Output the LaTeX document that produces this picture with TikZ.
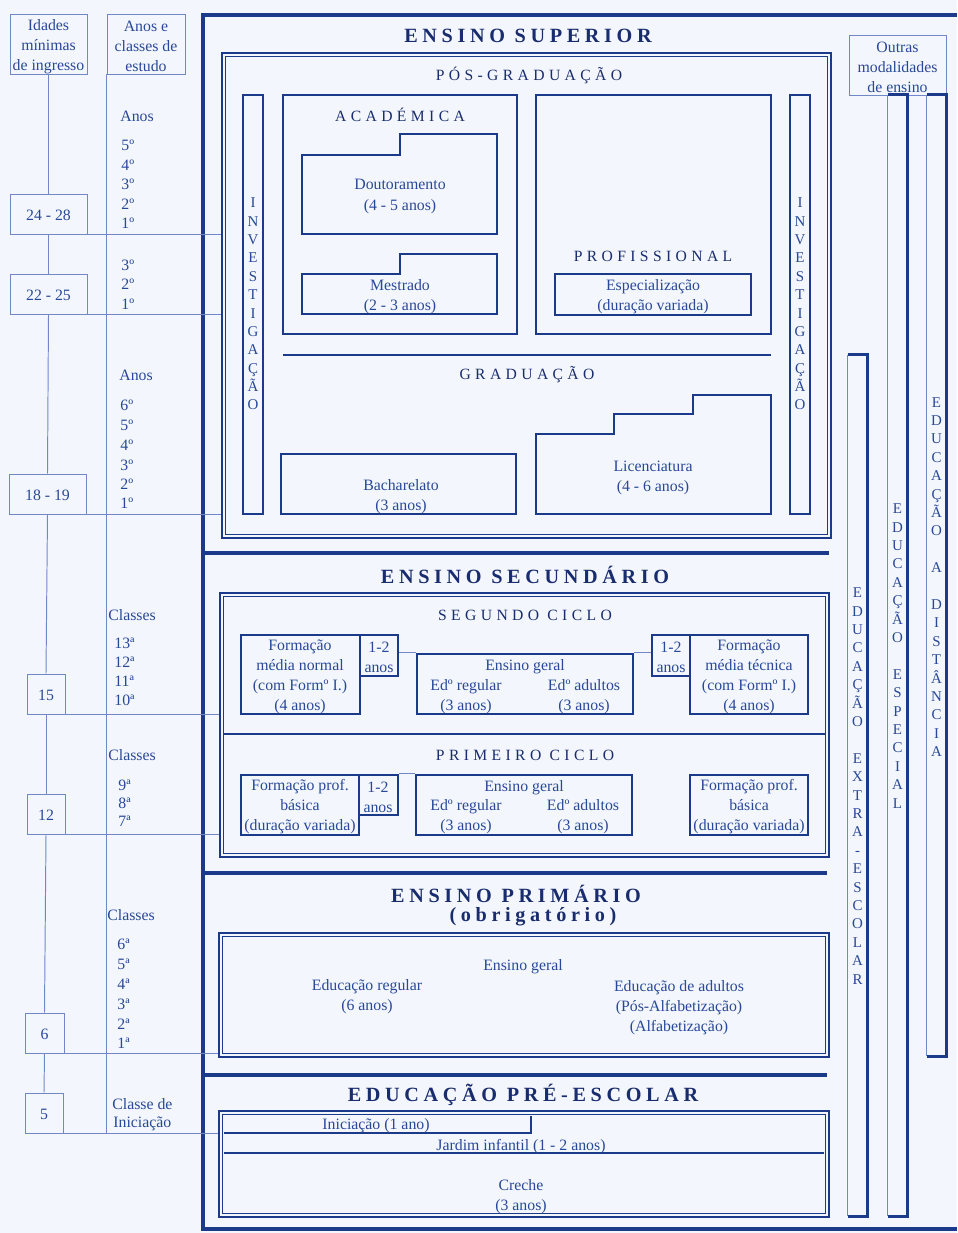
\documentclass[tikz,border=0pt]{standalone}
\usepackage{fontspec}
\setmainfont{Liberation Serif}
\usetikzlibrary{calc,fit}
\definecolor{lineblue}{RGB}{28,58,138}
\definecolor{thinblue}{RGB}{112,136,200}
\definecolor{headblue}{RGB}{25,44,110}
\definecolor{textblue}{RGB}{40,72,152}
\definecolor{paper}{RGB}{243,246,252}
\newcommand{\bodyfont}{\fontsize{9}{11.4}\selectfont}
\newcommand{\headfont}{\fontsize{11.5}{14}\selectfont\bfseries\addfontfeature{LetterSpace=23}}
\newcommand{\subheadfont}{\fontsize{8.9}{11}\selectfont\addfontfeature{LetterSpace=28}}
\newcommand{\vfont}{\fontsize{8.5}{10.47}\selectfont}
\tikzset{
  px/.style={x=0.02cm,y=-0.02cm},
  heavy/.style={draw=lineblue,line width=2.3pt},
  sepline/.style={draw=lineblue,line width=2.8pt},
  bx/.style={draw=lineblue,line width=1.4pt,inner sep=0pt},
  thinbx/.style={draw=thinblue,line width=0.55pt,inner sep=0pt},
  thin/.style={draw=thinblue,line width=0.55pt},
  frameout/.style={draw=lineblue,line width=1.6pt,inner sep=0pt},
  framein/.style={draw=lineblue,line width=0.7pt},
  midline/.style={draw=lineblue,line width=1.2pt},
  txt/.style={text=textblue,font=\bodyfont,align=center,inner sep=0pt,yshift=-0.03cm},
  lab/.style={text=textblue,font=\bodyfont,inner sep=0pt,anchor=west},
  head/.style={text=headblue,font=\headfont,inner sep=0pt},
  subhead/.style={text=headblue,font=\subheadfont,inner sep=0pt},
  vtxt/.style={text=textblue,font=\vfont,align=center,inner sep=0pt},
}
\newcommand{\dframe}[3]{%
  \node[frameout,fit={#2 #3}] (#1) {};
  \draw[framein] ($(#1.north west)+(5,5)$) rectangle ($(#1.south east)+(-5,-5)$);
}
\newcommand{\sidecol}[3]{%
  \node[inner sep=0pt,fit={#2 #3}] (#1) {};
  \draw[thin] (#1.north west) -- (#1.south west);
  \draw[bx] (#1.north west) -- (#1.north east) -- (#1.south east) -- (#1.south west);
}
\begin{document}
\begin{tikzpicture}[px]
\useasboundingbox (0,0) rectangle (957,1233);
\fill[paper] (0,0) rectangle (957,1233);

% ---------- outer frame and section separators
\draw[heavy] (957,15) -- (203,15) -- (203,1229) -- (957,1229);
\draw[sepline] (203,553) -- (829,553);
\draw[sepline] (203,873) -- (827,873);
\draw[sepline] (203,1075) -- (827,1075);

% ---------- ENSINO SUPERIOR
\node[head] (tSup) at (528,36) {ENSINO SUPERIOR};
\dframe{pg}{(222,53)}{(831,538)}
\node[subhead] (tPos) at (529,75) {PÓS-GRADUAÇÃO};

\node[bx,fit={(243,95)(263,514)}] (invL) {};
\node[vtxt] (invLt) at (253,304) {I\\N\\V\\E\\S\\T\\I\\G\\A\\Ç\\Ã\\O};
\node[bx,fit={(790,95)(810,514)}] (invR) {};
\node[vtxt] (invRt) at (800,304) {I\\N\\V\\E\\S\\T\\I\\G\\A\\Ç\\Ã\\O};

\node[bx,fit={(283,95)(517,334)}] (acad) {};
\node[subhead] (tAcad) at (400,115) {ACADÉMICA};
\draw[bx] (302,155) -- (400,155) -- (400,134) -- (497,134) -- (497,234) -- (302,234) -- cycle;
\node[txt] (dout) at (400,195) {Doutoramento\\(4 - 5 anos)};
\draw[bx] (302,274) -- (400,274) -- (400,254) -- (497,254) -- (497,314) -- (302,314) -- cycle;
\node[txt] (mest) at (400,295) {Mestrado\\(2 - 3 anos)};

\node[bx,fit={(536,95)(771,334)}] (prof) {};
\node[subhead] (tProf) at (653,256) {PROFISSIONAL};
\node[bx,fit={(555,274)(751,315)}] (esp) {};
\node[txt] (espt) at (653,295) {Especialização\\(duração variada)};

\draw[lineblue,line width=1.7pt] (283,355) -- (771,355);
\node[subhead] (tGrad) at (527,375) {GRADUAÇÃO};
\node[bx,fit={(281,454)(516,514)}] (bach) {};
\node[txt] (bacht) at (401,495) {Bacharelato\\(3 anos)};
\draw[bx] (536,514) -- (536,434) -- (614,434) -- (614,414) -- (693,414) -- (693,395) -- (771,395) -- (771,514) -- cycle;
\node[txt] (lict) at (653,476) {Licenciatura\\(4 - 6 anos)};

% ---------- ENSINO SECUNDARIO
\node[head] (tSec) at (525,575) {ENSINO SECUNDÁRIO};
\dframe{sec}{(220,593)}{(829,857)}
\draw[midline] ($(sec.north west)+(5,142)$) -- ($(sec.north east)+(-5,142)$);
\node[subhead] (tSeg) at (525,615) {SEGUNDO CICLO};
\node[subhead] (tPrim1) at (525,755) {PRIMEIRO CICLO};

\node[bx,fit={(241,635)(360,714)}] (fmn) {};
\node[bx,fit={(360,635)(398,676)}] (fmnA) {};
\node[txt] (fmnt) at (300,675) {Formação\\média normal\\(com Formº I.)\\(4 anos)};
\node[txt] (fmnAt) at (379,656) {1-2\\anos};
\node[bx,fit={(417,654)(633,714)}] (eg2) {};
\node[txt] (eg2t) at (525,665) {Ensino geral};
\node[txt] (eg2r) at (466,695) {Edº regular\\(3 anos)};
\node[txt] (eg2a) at (584,695) {Edº adultos\\(3 anos)};
\node[bx,fit={(652,635)(690,676)}] (fmtA) {};
\node[bx,fit={(690,635)(808,714)}] (fmt) {};
\node[txt] (fmtAt) at (671,656) {1-2\\anos};
\node[txt] (fmtt) at (749,675) {Formação\\média técnica\\(com Formº I.)\\(4 anos)};
\draw[thin] (fmnA.east |- eg2.north) -- (eg2.north west);
\draw[thin] (eg2.north east) -- (fmtA.west |- eg2.north);

\node[bx,fit={(241,775)(359,835)}] (fpb) {};
\node[bx,fit={(359,775)(398,815)}] (fpbA) {};
\node[txt] (fpbt) at (300,805) {Formação prof.\\básica\\(duração variada)};
\node[txt] (fpbAt) at (378,796) {1-2\\anos};
\node[bx,fit={(416,775)(632,835)}] (eg1) {};
\node[txt] (eg1t) at (524,786) {Ensino geral};
\node[txt] (eg1r) at (466,815) {Edº regular\\(3 anos)};
\node[txt] (eg1a) at (583,815) {Edº adultos\\(3 anos)};
\node[bx,fit={(690,775)(808,835)}] (fpbR) {};
\node[txt] (fpbRt) at (749,805) {Formação prof.\\básica\\(duração variada)};
\draw[thin] (fpbA.north east) -- (eg1.north west);

% ---------- ENSINO PRIMARIO
\node[head] (tPri) at (516,894) {ENSINO PRIMÁRIO};
\node[head] (tObr) at (533,917) {(obrigatório)};
\dframe{pri}{(219,933)}{(829,1057)}
\node[txt] (prig) at (523,965) {Ensino geral};
\node[txt] (prir) at (367,995) {Educação regular\\(6 anos)};
\node[txt] (pria) at (679,1006) {Educação de adultos\\(Pós-Alfabetização)\\(Alfabetização)};

% ---------- EDUCACAO PRE-ESCOLAR
\node[head] (tPre) at (523,1095) {EDUCAÇÃO PRÉ-ESCOLAR};
\dframe{pre}{(219,1111)}{(829,1217)}
\draw[midline] (224,1133) -- (531,1133) -- (531,1116);
\draw[midline] (224,1153) -- (824,1153);
\node[txt] (inic) at (376,1124) {Iniciação (1 ano)};
\node[txt] (jard) at (521,1145) {Jardim infantil (1 - 2 anos)};
\node[txt] (crec) at (521,1195) {Creche\\(3 anos)};

% ---------- left columns
\node[thinbx,fit={(10,14)(87,74)}] (idades) {};
\node[txt] (idadest) at (48.5,45) {Idades\\mínimas\\de ingresso};
\node[thinbx,fit={(107,14)(185,74)}] (anosbox) {};
\node[txt] (anosboxt) at (146,45) {Anos e\\classes de\\estudo};

\node[thinbx,fit={(10,194)(87,234)}] (a2428) {};
\node[thinbx,fit={(10,274)(87,314)}] (a2225) {};
\node[thinbx,fit={(9,474)(86,514)}] (a1819) {};
\node[thinbx,fit={(27,674)(65,714)}] (a15) {};
\node[thinbx,fit={(27,794)(65,834)}] (a12) {};
\node[thinbx,fit={(25,1013)(64,1053)}] (a6) {};
\node[thinbx,fit={(25,1093)(63,1133)}] (a5) {};
\node[txt] (a2428t) at (a2428) {24 - 28};
\node[txt] (a2225t) at (a2225) {22 - 25};
\node[txt] (a1819t) at (a1819) {18 - 19};
\node[txt] (a15t) at (a15) {15};
\node[txt] (a12t) at (a12) {12};
\node[txt] (a6t) at (a6) {6};
\node[txt] (a5t) at (a5) {5};

\draw[thin] (idades.south) -- (a2428.north);
\draw[thin] (a2428.south) -- (a2225.north);
\draw[thin] (a2225.south) -- (a1819.north);
\draw[thin] (a1819.south) -- (a15.north);
\draw[thin] (a15.south) -- (a12.north);
\draw[thin] (a12.south) -- (a6.north);
\draw[thin] (a6.south) -- (a5.north);
\draw[thin] (anosbox.south west) -- (anosbox.south west |- a5.south);

\draw[thin] (a2428.south west) -- (a2428.south west -| pg.west);
\draw[thin] (a2225.south west) -- (a2225.south west -| pg.west);
\draw[thin] (a1819.south west) -- (a1819.south west -| pg.west);
\draw[thin] (a15.south west) -- (a15.south west -| sec.west);
\draw[thin] (a12.south west) -- (a12.south west -| sec.west);
\draw[thin] (a6.south west) -- (a6.south west -| pri.west);
\draw[thin] (a5.south west) -- (a5.south west -| pre.west);

% year / class labels
\node[lab] (l1) at (120,116) {Anos};
\node[lab] (l2) at (121,145) {5º};
\node[lab] (l3) at (121,165) {4º};
\node[lab] (l4) at (121,184) {3º};
\node[lab] (l5) at (121,204) {2º};
\node[lab] (l6) at (121,223) {1º};
\node[lab] (l7) at (121,265) {3º};
\node[lab] (l8) at (121,284) {2º};
\node[lab] (l9) at (121,304) {1º};
\node[lab] (l10) at (119,375) {Anos};
\node[lab] (l11) at (120,405) {6º};
\node[lab] (l12) at (120,425) {5º};
\node[lab] (l13) at (120,445) {4º};
\node[lab] (l14) at (120,465) {3º};
\node[lab] (l15) at (120,484) {2º};
\node[lab] (l16) at (120,503) {1º};
\node[lab] (l17) at (108,615) {Classes};
\node[lab] (l18) at (114,643) {13ª};
\node[lab] (l19) at (114,662) {12ª};
\node[lab] (l20) at (114,681) {11ª};
\node[lab] (l21) at (114,700) {10ª};
\node[lab] (l22) at (108,755) {Classes};
\node[lab] (l23) at (118,785) {9ª};
\node[lab] (l24) at (118,803) {8ª};
\node[lab] (l25) at (118,821) {7ª};
\node[lab] (l26) at (107,915) {Classes};
\node[lab] (l27) at (117,944) {6ª};
\node[lab] (l28) at (117,964) {5ª};
\node[lab] (l29) at (117,984) {4ª};
\node[lab] (l30) at (117,1004) {3ª};
\node[lab] (l31) at (117,1024) {2ª};
\node[lab] (l32) at (117,1043) {1ª};
\node[lab] (l33) at (112,1104) {Classe de};
\node[lab] (l34) at (113,1124) {Iniciação};

% ---------- right columns
\node[thinbx,fit={(849,35)(946,95)}] (outras) {};
\node[txt] (outrast) at (897.5,66) {Outras\\modalidades\\de ensino};
\sidecol{colDist}{(927,95)}{(946,1056)}
\sidecol{colEsp}{(888,95)}{(907,1216)}
\sidecol{colExtra}{(848,355)}{(867,1216)}
\node[vtxt] (vDist) at (936.5,577) {E\\D\\U\\C\\A\\Ç\\Ã\\O\\\mbox{}\\A\\\mbox{}\\D\\I\\S\\T\\Â\\N\\C\\I\\A};
\node[vtxt] (vEsp) at (897.5,656) {E\\D\\U\\C\\A\\Ç\\Ã\\O\\\mbox{}\\E\\S\\P\\E\\C\\I\\A\\L};
\node[vtxt] (vExtra) at (857.5,786) {E\\D\\U\\C\\A\\Ç\\Ã\\O\\\mbox{}\\E\\X\\T\\R\\A\\-\\E\\S\\C\\O\\L\\A\\R};
\end{tikzpicture}
\end{document}
